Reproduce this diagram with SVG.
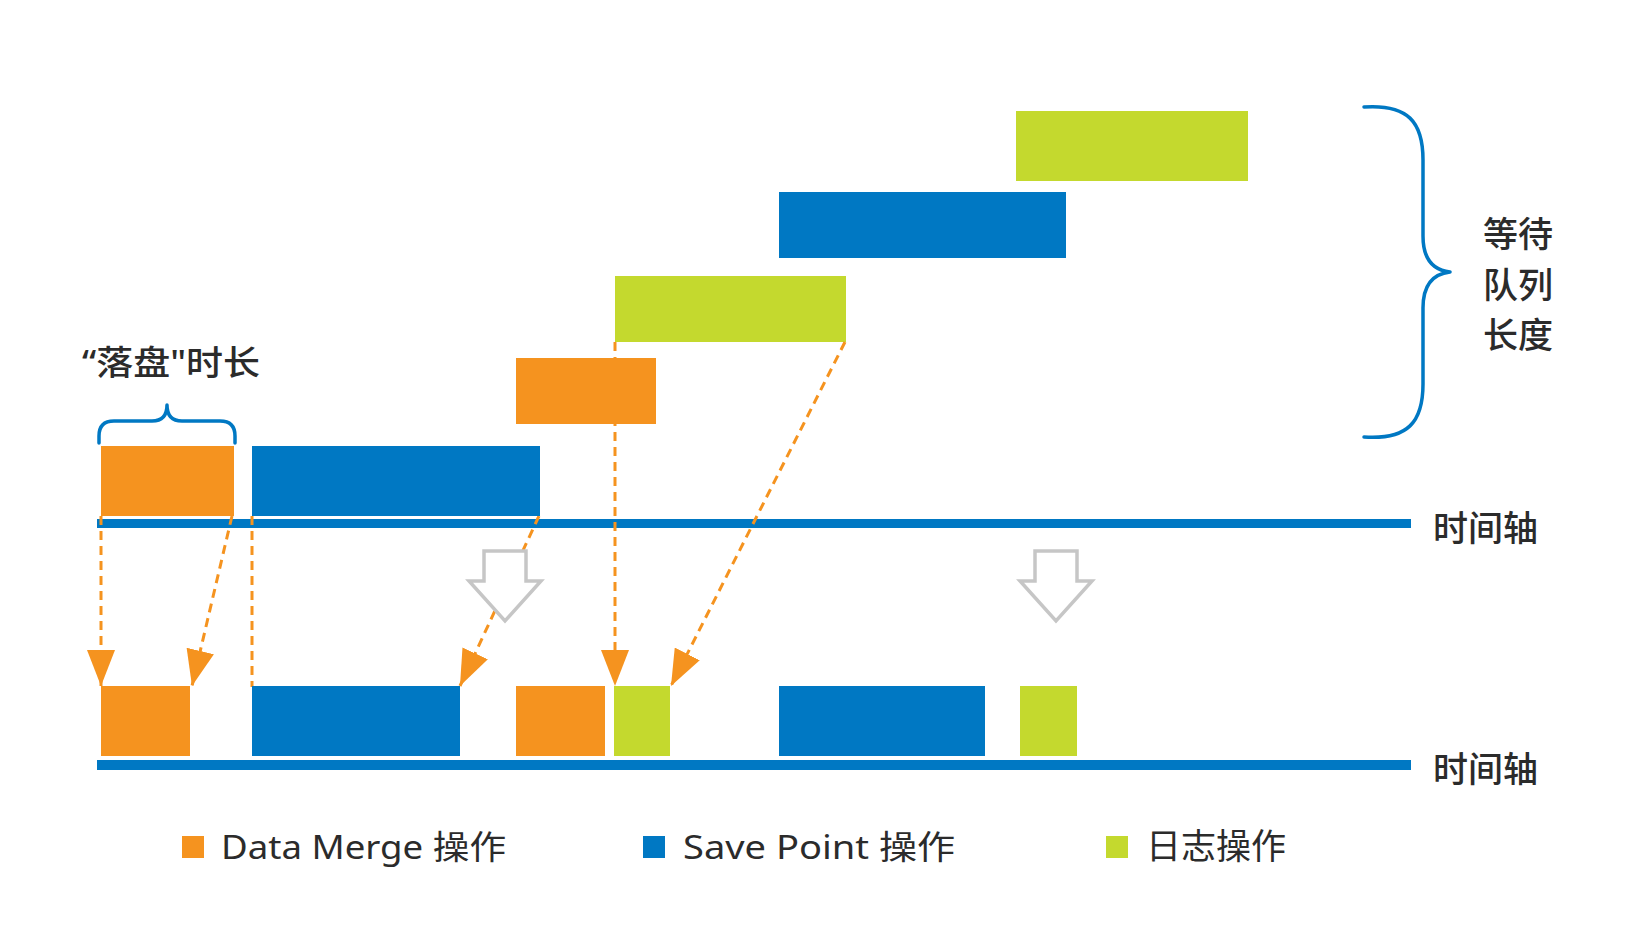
<svg xmlns="http://www.w3.org/2000/svg" width="1648" height="927" viewBox="0 0 1648 927">
  <defs>
    <style>
      .org{fill:#F5931F}
      .blu{fill:#0078C3}
      .grn{fill:#C4D92E}
      .axis{stroke:#0078C3;stroke-width:9;fill:none}
      .dash{stroke:#F5931F;stroke-width:3;fill:none;stroke-dasharray:9 6}
      .brace{stroke:#0078C3;stroke-width:3.5;fill:none;stroke-linecap:round;stroke-linejoin:round}
      .hollow{fill:#ffffff;stroke:#C6C6C6;stroke-width:3.5;stroke-linejoin:miter}
      .lbl{font-family:"Noto Sans","Noto Sans CJK SC",sans-serif;fill:#2b2b2b;font-weight:500}
      .leg{font-family:"Noto Sans","Noto Sans CJK SC",sans-serif;fill:#2b2b2b;font-weight:400}
    </style>
    <marker id="tri" markerUnits="userSpaceOnUse" markerWidth="36" markerHeight="28" refX="36" refY="14" orient="auto" viewBox="0 0 36 28">
      <path d="M0,0 L36,14 L0,28 Z" fill="#F5931F"/>
    </marker>
  </defs>
  <rect width="1648" height="927" fill="#ffffff"/>

  <g id="axes">
    <line class="axis" x1="97" y1="523.5" x2="1411" y2="523.5"/>
    <line class="axis" x1="97" y1="765" x2="1411" y2="765" style="stroke-width:10"/>
  </g>

  <g id="queue-top">
    <g id="q-log-2"><rect class="grn" x="1016" y="111" width="232" height="70"/></g>
    <g id="q-save-2"><rect class="blu" x="779" y="192" width="287" height="66"/></g>
    <g id="q-log-1"><rect class="grn" x="615" y="276" width="231" height="66"/></g>
  </g>

  <g id="connectors">
    <line class="dash" x1="101" y1="516" x2="101" y2="686" marker-end="url(#tri)"/>
    <line class="dash" x1="232" y1="516" x2="192" y2="686" marker-end="url(#tri)"/>
    <line class="dash" x1="252" y1="516" x2="252" y2="687"/>
    <line class="dash" x1="539" y1="516" x2="460" y2="686" marker-end="url(#tri)"/>
    <line class="dash" x1="615" y1="342" x2="615" y2="686" marker-end="url(#tri)"/>
    <line class="dash" x1="845" y1="342" x2="671" y2="686" marker-end="url(#tri)"/>
  </g>

  <g id="q-merge-2"><rect class="org" x="516" y="358" width="140" height="66"/></g>
  <g id="t-merge-1"><rect class="org" x="101" y="446" width="133" height="70"/></g>
  <g id="t-save-1"><rect class="blu" x="252" y="446" width="288" height="70"/></g>

  <g id="hollow-arrow-1">
    <polygon class="hollow" points="484,551 526,551 526,581 541,581 505,621 469,581 484,581"/>
  </g>
  <g id="hollow-arrow-2">
    <polygon class="hollow" points="1035,551 1077,551 1077,581 1092,581 1056,621 1020,581 1035,581"/>
  </g>

  <g id="bottom-row">
    <g id="b-merge-1"><rect class="org" x="101" y="686" width="89" height="70"/></g>
    <g id="b-save-1"><rect class="blu" x="252" y="686" width="208" height="70"/></g>
    <g id="b-merge-2"><rect class="org" x="516" y="686" width="89" height="70"/></g>
    <g id="b-log-1"><rect class="grn" x="614" y="686" width="56" height="70"/></g>
    <g id="b-save-2"><rect class="blu" x="779" y="686" width="206" height="70"/></g>
    <g id="b-log-2"><rect class="grn" x="1020" y="686" width="57" height="70"/></g>
  </g>

  <g id="brace-small">
    <path class="brace" d="M99,443 L99,436 Q99,421 114,421 L152,421 Q167,421 167,405 Q167,421 182,421 L220,421 Q235,421 235,436 L235,443"/>
    <text class="lbl" x="82" y="375" font-size="34" textLength="178" lengthAdjust="spacingAndGlyphs">“落盘"时长</text>
  </g>

  <g id="brace-large">
    <path class="brace" d="M1364,107 C1408,104 1423,122 1423,160 L1423,236 C1423,258 1432,270 1450,272 C1432,274 1423,286 1423,308 L1423,384 C1423,422 1408,440 1364,437"/>
    <text class="lbl" x="1483" y="247" font-size="35">等待</text>
    <text class="lbl" x="1483" y="298" font-size="35">队列</text>
    <text class="lbl" x="1483" y="348" font-size="35">长度</text>
  </g>

  <g id="axis-labels">
    <text class="lbl" x="1433" y="541" font-size="35">时间轴</text>
    <text class="lbl" x="1433" y="782" font-size="35">时间轴</text>
  </g>

  <g id="legend">
    <rect class="org" x="182" y="836" width="22" height="22"/>
    <text class="leg" x="221" y="859" font-size="33" textLength="285" lengthAdjust="spacingAndGlyphs">Data Merge 操作</text>
    <rect class="blu" x="643" y="836" width="22" height="22"/>
    <text class="leg" x="683" y="859" font-size="33" textLength="272" lengthAdjust="spacingAndGlyphs">Save Point 操作</text>
    <rect class="grn" x="1106" y="836" width="22" height="22"/>
    <text class="leg" x="1146" y="859" font-size="35">日志操作</text>
  </g>
</svg>
